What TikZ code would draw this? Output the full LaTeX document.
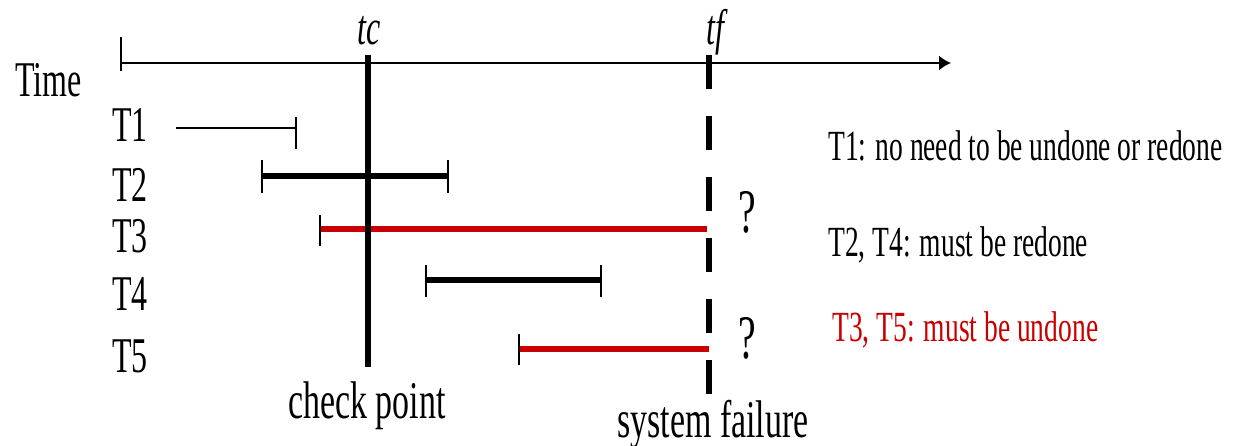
\documentclass[tikz,border=0pt]{standalone}
\usepackage{fontspec}
\setmainfont{Liberation Serif}[FakeStretch=0.64]
\usetikzlibrary{arrows.meta}
\definecolor{failred}{RGB}{200,0,0}
\begin{document}
\begin{tikzpicture}[x=1pt,y=-1pt,
  lbl/.style={inner sep=0pt, font=\fontsize{50}{50}\selectfont},
  biglbl/.style={inner sep=0pt, font=\fontsize{53}{53}\selectfont},
  leg/.style={inner sep=0pt, anchor=base west, font=\fontsize{43}{43}\selectfont},
  qmark/.style={inner sep=0pt, anchor=base, font=\fontsize{62}{62}\selectfont},
  axis/.style={line width=2pt, -{Latex[length=12pt,width=15pt]}},
  tick/.style={line width=2pt},
  thinbar/.style={line width=2pt},
  thickbar/.style={line width=5.5pt},
  redbar/.style={line width=5.5pt, draw=failred},
  ckline/.style={line width=5.5pt},
  failline/.style={line width=6pt, dash pattern=on 34pt off 27pt}]
\useasboundingbox (0,0) rectangle (1241,446);

% axis
\coordinate (a0) at (121,63);
\coordinate (a1) at (951,63);
\coordinate (a0t) at (121,37);
\coordinate (a0b) at (121,71);
\draw[axis] (a0) -- (a1);
\draw[tick] (a0t) -- (a0b);
\node[lbl, anchor=base west] (time) at (15,97) {Time};

% checkpoint and failure lines
\coordinate (tc0) at (368,55);
\coordinate (tc1) at (368,367);
\coordinate (tf0) at (709,55);
\coordinate (tf1) at (709,394);
\node[lbl, anchor=base] (tc) at (369,45) {\itshape tc};
\node[lbl, anchor=base] (tf) at (715,45) {\itshape tf};

% transaction labels
\node[lbl, anchor=base west] (l1) at (112,142) {T1};
\node[lbl, anchor=base west] (l2) at (112,202) {T2};
\node[lbl, anchor=base west] (l3) at (112,253) {T3};
\node[lbl, anchor=base west] (l4) at (112,310) {T4};
\node[lbl, anchor=base west] (l5) at (112,372) {T5};

% T1
\coordinate (t1a) at (176,128);
\coordinate (t1b) at (296,128);
\draw[thinbar] (t1a) -- (t1b);
\draw[tick] ([yshift=-21pt]t1b) -- ([yshift=11pt]t1b);
% T2
\coordinate (t2a) at (262,176);
\coordinate (t2b) at (448,176);
\draw[thickbar] (t2a) -- (t2b);
\draw[tick] ([yshift=-17pt]t2a) -- ([yshift=16pt]t2a);
\draw[tick] ([yshift=-17pt]t2b) -- ([yshift=16pt]t2b);
% T3
\coordinate (t3a) at (320,229);
\coordinate (t3b) at (707,229);
\draw[redbar] (t3a) -- (t3b);
\draw[tick] ([yshift=-17pt]t3a) -- ([yshift=14pt]t3a);
% T4
\coordinate (t4a) at (426,280);
\coordinate (t4b) at (601,280);
\draw[thickbar] (t4a) -- (t4b);
\draw[tick] ([yshift=-17pt]t4a) -- ([yshift=15pt]t4a);
\draw[tick] ([yshift=-17pt]t4b) -- ([yshift=15pt]t4b);
% T5
\coordinate (t5a) at (519,349);
\coordinate (t5b) at (709,349);
\draw[redbar] (t5a) -- (t5b);
\draw[tick] ([yshift=-16pt]t5a) -- ([yshift=15pt]t5a);

\draw[ckline] (tc0) -- (tc1);
\draw[failline] (tf0) -- (tf1);

\node[biglbl, anchor=base] (cp) at (367,418) {check point};
\node[biglbl, anchor=base] (sf) at (713,437) {system failure};

\node[qmark] (q1) at (747,233) {?};
\node[qmark] (q2) at (747,358) {?};

% legend
\node[leg] (g1) at (828,161) {T1: no need to be undone or redone};
\node[leg] (g2) at (828,256) {T2, T4: must be redone};
\node[leg, text=failred] (g3) at (832,341) {T3, T5: must be undone};
\end{tikzpicture}
\end{document}
